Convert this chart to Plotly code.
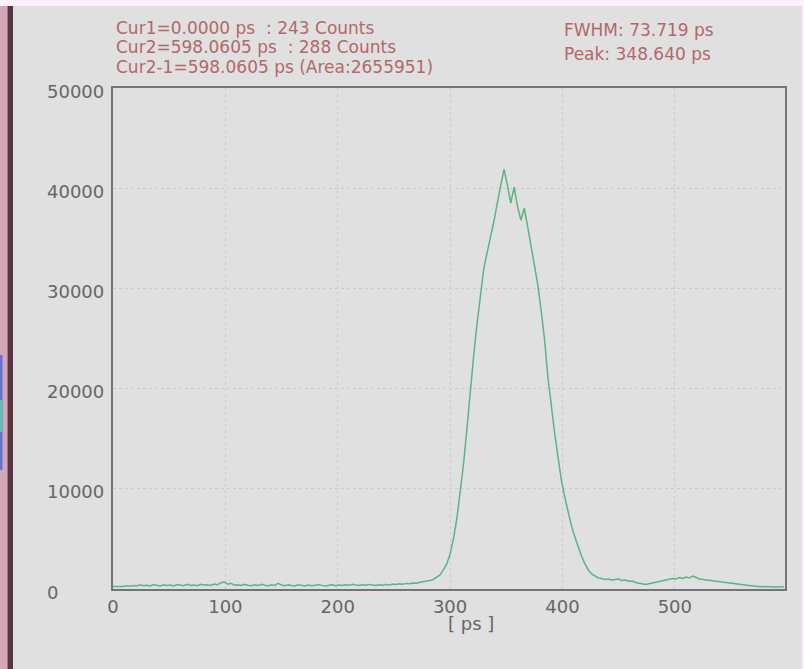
import plotly.graph_objects as go

# Histogram bin width of the time axis, in picoseconds
BIN_PS = 3.0

# Counts per 3 ps bin, starting at 0 ps
counts = [
    250, 240, 300, 260, 330, 280, 350, 300, 420, 330,        # 0 - 27
    380, 310, 450, 360, 300, 420, 350, 390, 310, 440,        # 30 - 57
    380, 330, 470, 360, 400, 330, 480, 390, 420, 350,        # 60 - 87
    500, 420, 620, 700, 480, 560, 380, 430, 360, 470,        # 90 - 117
    380, 330, 420, 350, 470, 380, 300, 420, 360, 560,        # 120 - 147
    400, 330, 410, 350, 300, 420, 360, 310, 400, 330,        # 150 - 177
    380, 440, 360, 300, 380, 420, 330, 400, 360, 430,        # 180 - 207
    380, 470, 400, 350, 420, 380, 460, 400, 350, 430,        # 210 - 237
    380, 460, 410, 500, 440, 520, 480, 560, 520, 600,        # 240 - 267
    580, 680, 720, 800, 850, 950, 1150, 1400, 1900, 2500,    # 270 - 297
    3500, 5000, 7000, 9500, 12500, 16000, 20000, 23300, 26500, 29500,   # 300 - 327
    32000, 33600, 35000, 36700, 38500, 40200, 41900, 40300, 38500, 40100,  # 330 - 357
    38200, 36800, 38000, 36200, 34300, 32700, 30400, 27800, 25000, 21200,  # 360 - 387
    18300, 15600, 13200, 10900, 9200, 7700, 6300, 5200, 4200, 3300,      # 390 - 417
    2500, 1900, 1500, 1300, 1100, 1050, 950, 1000, 900, 950,  # 420 - 447
    1000, 850, 900, 780, 800, 650, 600, 500, 450, 520,        # 450 - 477
    600, 700, 780, 850, 900, 950, 1050, 1000, 1150, 1050,     # 480 - 507
    1200, 1100, 1300, 1150, 1000, 950, 900, 850, 800, 750,    # 510 - 537
    700, 650, 600, 620, 520, 480, 450, 420, 380, 330,         # 540 - 567
    300, 260, 220, 240, 200, 230, 210, 220, 200, 230,         # 570 - 597
]
time_ps = [i * BIN_PS for i in range(len(counts))]

x_ticks = [0, 100, 200, 300, 400, 500]
y_ticks = [0, 10000, 20000, 30000, 40000, 50000]
x_max = 598.0605
y_max = 50000

cursor_lines = [
    "Cur1=0.0000 ps\u00a0 : 243 Counts",
    "Cur2=598.0605 ps\u00a0 : 288 Counts",
    "Cur2-1=598.0605 ps (Area:2655951)",
]
fit_lines = ["FWHM: 73.719 ps", "Peak: 348.640 ps"]
x_title = "[ ps ]"

# Page geometry (pixels)
W, H = 804, 669
PL, PR, PT, PB = 113, 785, 88, 589

FONT = "DejaVu Sans"
TICK_COLOR = "#666666"
NOTE_COLOR = "#b36868"
BG = "#e0e0e0"


def px(x):
    return (x - PL) / (PR - PL)


def py(y):
    return (PB - y) / (PB - PT)


fig = go.Figure()
fig.add_trace(go.Scatter(
    x=time_ps, y=counts, mode="lines",
    line=dict(color="#5ab483", width=1.5),
    hoverinfo="x+y", showlegend=False,
))

annotations = []
for txt, ycen in zip(cursor_lines, [28, 47.5, 67]):
    annotations.append(dict(
        text=txt, xref="paper", yref="paper", x=px(114), y=py(ycen),
        xanchor="left", yanchor="middle", showarrow=False,
        font=dict(family=FONT, size=17, color=NOTE_COLOR),
    ))
for txt, ycen in zip(fit_lines, [30, 54]):
    annotations.append(dict(
        text=txt, xref="paper", yref="paper", x=px(562), y=py(ycen),
        xanchor="left", yanchor="middle", showarrow=False,
        font=dict(family=FONT, size=17, color=NOTE_COLOR),
    ))
# Left-aligned count labels on the vertical axis
for v in y_ticks:
    annotations.append(dict(
        text=str(v), xref="paper", yref="y", x=px(45), y=v,
        xanchor="left", yanchor="middle", yshift=-3, showarrow=False,
        font=dict(family=FONT, size=18, color=TICK_COLOR),
    ))
annotations.append(dict(
    text=x_title, xref="paper", yref="paper", x=px(471), y=py(623),
    xanchor="center", yanchor="middle", showarrow=False,
    font=dict(family=FONT, size=18, color=TICK_COLOR),
))

shapes = [
    # top strip
    dict(type="rect", xref="paper", yref="paper", x0=px(-2), x1=px(W + 2),
         y0=py(6), y1=py(-2), fillcolor="#fcf0fb", line=dict(width=0), layer="above"),
    # left window edge
    dict(type="rect", xref="paper", yref="paper", x0=px(-2), x1=px(7.5),
         y0=py(H + 2), y1=py(6), fillcolor="#d4a6b9", line=dict(width=0), layer="above"),
    dict(type="rect", xref="paper", yref="paper", x0=px(7.5), x1=px(13),
         y0=py(H + 2), y1=py(6), fillcolor="#573541", line=dict(width=0), layer="above"),
    dict(type="rect", xref="paper", yref="paper", x0=px(0), x1=px(2.5),
         y0=py(470), y1=py(355), fillcolor="#6272d8", line=dict(width=0), layer="above"),
    dict(type="rect", xref="paper", yref="paper", x0=px(0), x1=px(2.5),
         y0=py(432), y1=py(400), fillcolor="#5cc0b0", line=dict(width=0), layer="above"),
    # right window edge
    dict(type="rect", xref="paper", yref="paper", x0=px(802), x1=px(W + 2),
         y0=py(H + 2), y1=py(6), fillcolor="#fbf3fa", line=dict(width=0), layer="above"),
]

fig.update_layout(
    width=W, height=H,
    margin=dict(l=PL, r=W - PR, t=PT, b=H - PB, pad=0),
    paper_bgcolor=BG, plot_bgcolor=BG,
    font=dict(family=FONT, size=18, color=TICK_COLOR),
    annotations=annotations, shapes=shapes,
    xaxis=dict(
        range=[0, x_max], tickmode="array", tickvals=x_ticks,
        ticktext=[str(t) for t in x_ticks], ticks="",
        tickfont=dict(family=FONT, size=18, color=TICK_COLOR),
        showgrid=True, gridcolor="#cbcbcb", griddash="dot", gridwidth=1,
        zeroline=False, showline=True, mirror=True,
        linecolor="#747474", linewidth=2,
    ),
    yaxis=dict(
        range=[0, y_max], tickmode="array", tickvals=y_ticks,
        showticklabels=False, ticks="",
        showgrid=True, gridcolor="#cbcbcb", griddash="dot", gridwidth=1,
        zeroline=False, showline=True, mirror=True,
        linecolor="#747474", linewidth=2,
    ),
)

fig.write_html("out.html", config={"displayModeBar": False})
